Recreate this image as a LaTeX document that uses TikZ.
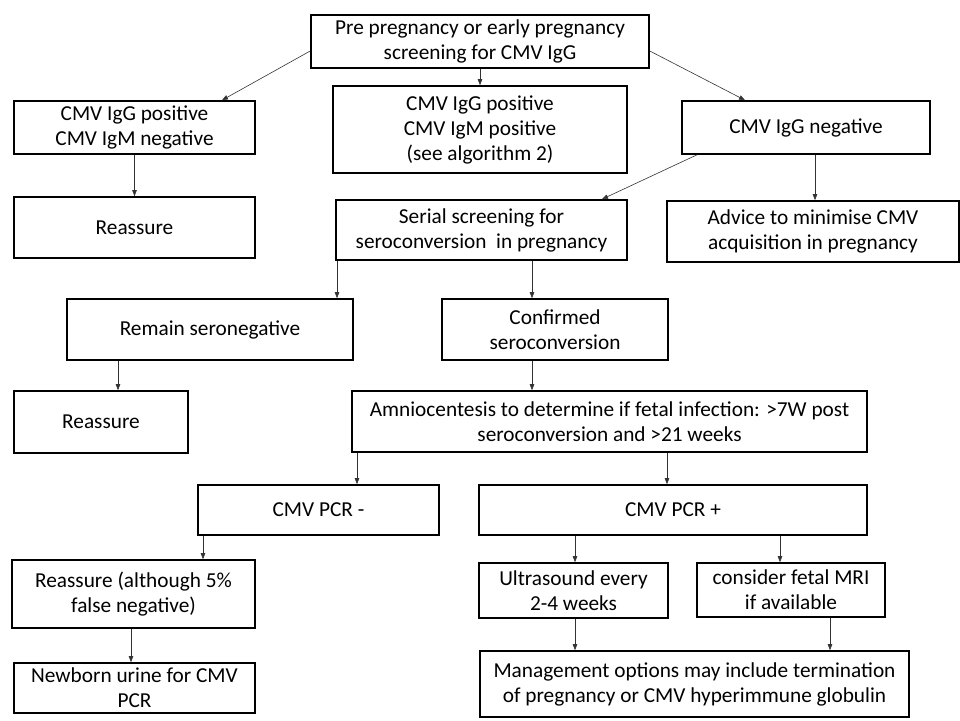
\documentclass[tikz,border=0pt]{standalone}
\usepackage{fontspec}
\setmainfont{Carlito}
\usetikzlibrary{arrows.meta}
\tikzset{
    box/.style={draw, line width=1.6pt, align=center, inner sep=0pt,
        font=\fontsize{21.3}{25}\selectfont},
    arr/.style={-{Triangle[length=6pt,width=4.5pt]}, line width=0.6pt, draw=black!80}
}
\begin{document}
\begin{tikzpicture}[x=1pt,y=-1pt]
        \useasboundingbox (0,0) rectangle (960,720);
        % first level
        \node[box, minimum width=338, minimum height=53] (top) at (480,41.5)
            {Pre pregnancy or early pregnancy\\screening for CMV IgG};
        \node[box, minimum width=241, minimum height=53] (ipos) at (134.5,127.5)
            {CMV IgG positive\\CMV IgM negative};
        \node[box, minimum width=294, minimum height=87] (ippos) at (480,129.5)
            {CMV IgG positive\\CMV IgM positive\\(see algorithm 2)};
        \node[box, minimum width=248, minimum height=53] (ineg) at (806,127.5)
            {CMV IgG negative};
        % second level
        \node[box, minimum width=241, minimum height=61] (reas1) at (134.5,227.5) {Reassure};
        \node[box, minimum width=291, minimum height=60] (serial) at (481.5,230)
            {Serial screening for\\seroconversion \ in pregnancy};
        \node[box, minimum width=292, minimum height=61] (advice) at (813,231.5)
            {Advice to minimise CMV\\acquisition in pregnancy};
        \node[box, minimum width=286, minimum height=61] (remain) at (210,329.5)
            {Remain seronegative};
        \node[box, minimum width=226, minimum height=61] (conf) at (555,329.5)
            {Confirmed\\seroconversion};
        \node[box, minimum width=174, minimum height=62] (reas2) at (101,422) {Reassure};
        \node[box, minimum width=515, minimum height=61] (amnio) at (609.5,421.5)
            {Amniocentesis to determine if fetal infection: >7W post\\seroconversion and >21 weeks};
        % PCR result
        \node[box, minimum width=241, minimum height=50] (pcrneg) at (318.5,510) {CMV PCR -};
        \node[box, minimum width=388, minimum height=50] (pcrpos) at (673,510) {CMV PCR +};
        \node[box, minimum width=243, minimum height=68] (reas3) at (133.5,594)
            {Reassure (although 5\%\\false negative)};
        \node[box, minimum width=241, minimum height=50] (newborn) at (134.5,688)
            {Newborn urine for CMV\\PCR};
        \node[box, minimum width=189, minimum height=55] (us) at (573.5,590.5)
            {Ultrasound every\\2-4 weeks};
        \node[box, minimum width=188, minimum height=54] (mri) at (791,590)
            {consider fetal MRI\\if available};
        \node[box, minimum width=429, minimum height=66] (mgmt) at (694.5,684)
            {Management options may include termination\\of pregnancy or CMV hyperimmune globulin};
        % arrows
        \draw[arr] (top.west |- 0,51) -- (ipos.north -| 222,0);
        \draw[arr] (top.south) -- (ippos.north);
        \draw[arr] (top.east |- 0,51) -- (ineg.north -| 745,0);
        \draw[arr] (ipos.south) -- (reas1.north);
        \draw[arr] (ineg.south -| 697,0) -- (serial.north -| 602,0);
        \draw[arr] (ineg.south -| 815,0) -- (advice.north -| 815,0);
        \draw[arr] (serial.south -| 337,0) -- (remain.north -| 337,0);
        \draw[arr] (serial.south -| 532,0) -- (conf.north -| 532,0);
        \draw[arr] (remain.south -| 118,0) -- (reas2.north -| 118,0);
        \draw[arr] (conf.south -| 532,0) -- (amnio.north -| 532,0);
        \draw[arr] (amnio.south -| 357,0) -- (pcrneg.north -| 357,0);
        \draw[arr] (amnio.south -| 667,0) -- (pcrpos.north -| 667,0);
        \draw[arr] (pcrneg.south -| 203,0) -- (reas3.north -| 203,0);
        \draw[arr] (reas3.south -| 131,0) -- (newborn.north -| 131,0);
        \draw[arr] (pcrpos.south -| 575,0) -- (us.north -| 575,0);
        \draw[arr] (pcrpos.south -| 780,0) -- (mri.north -| 780,0);
        \draw[arr] (us.south -| 575,0) -- (mgmt.north -| 575,0);
        \draw[arr] (mri.south -| 830,0) -- (mgmt.north -| 830,0);
    \end{tikzpicture}
\end{document}
